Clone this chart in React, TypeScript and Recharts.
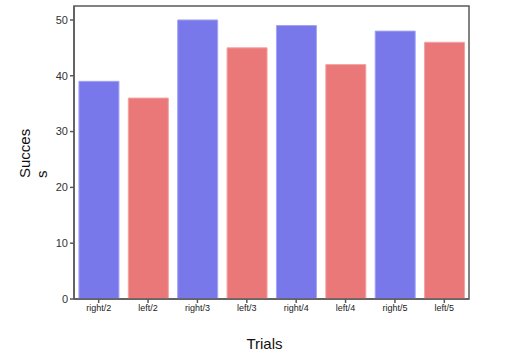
import { Bar, BarChart, Cell, ReferenceArea, XAxis, YAxis } from "recharts";

const trials = ["right/2", "left/2", "right/3", "left/3", "right/4", "left/4", "right/5", "left/5"];
const successes = [39, 36, 50, 45, 49, 42, 48, 46];
const yTicks = [0, 10, 20, 30, 40, 50];

const BLUE = "#7878eb";
const RED = "#eb7878";

const data = trials.map((trial, i) => ({ trial, success: successes[i] }));

const axisColor = "#5a5a5a";
const font = "Liberation Sans, Arial, sans-serif";

function YLabel() {
  return (
    <text
      fontFamily={font}
      fontSize={15}
      fill="#111"
      textAnchor="start"
      transform="rotate(-90, 30, 178)"
      x={30}
      y={178}
    >
      <tspan x={30} y={178}>Succes</tspan>
      <tspan x={30} y={195}>s</tspan>
    </text>
  );
}

export default function App() {
  return (
    <div style={{ position: "absolute", left: 0, top: 0, background: "#fff" }}>
      <BarChart
        width={529}
        height={362}
        data={data}
        margin={{ top: 6, right: 60, left: 34, bottom: 33 }}
        barCategoryGap="10%"
      >
        <XAxis
          dataKey="trial"
          stroke={axisColor}
          strokeWidth={1.5}
          tickSize={4}
          height={30}
          interval={0}
          tick={{ fontSize: 9, fill: "#222", fontFamily: font }}
          label={{
            value: "Trials",
            position: "insideBottom",
            offset: -20,
            fontSize: 15,
            fill: "#111",
            fontFamily: font,
            dx: -7,
          }}
        />
        <YAxis
          domain={[0, 52.5]}
          ticks={yTicks}
          allowDataOverflow
          stroke={axisColor}
          strokeWidth={1.5}
          tickSize={4}
          width={40}
          tick={{ fontSize: 11, fill: "#333", fontFamily: font }}
          label={{ content: () => <YLabel /> }}
        />
        <Bar dataKey="success" isAnimationActive={false} strokeWidth={1}>
          {data.map((d, i) => (
            <Cell
              key={d.trial}
              fill={i % 2 === 0 ? BLUE : RED}
              stroke={i % 2 === 0 ? "#a3a3f4" : "#f4a3a3"}
            />
          ))}
        </Bar>
        <ReferenceArea
          y1={0}
          y2={52.5}
          fill="none"
          fillOpacity={0}
          stroke={axisColor}
          strokeWidth={1.5}
          ifOverflow="visible"
        />
      </BarChart>
    </div>
  );
}
